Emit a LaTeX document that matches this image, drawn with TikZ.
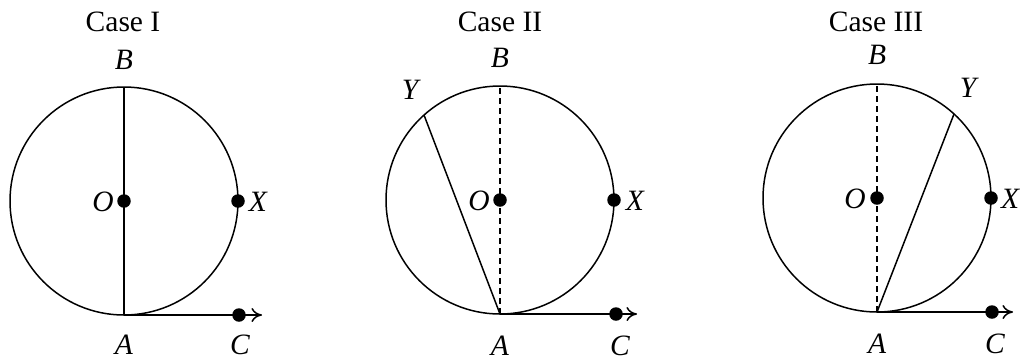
\documentclass[tikz,border=0pt]{standalone}
\usepackage{fontspec}
\setmainfont{Liberation Serif}
\usetikzlibrary{arrows.meta,positioning}

\begin{document}
\begin{tikzpicture}[
  x=0.02cm, y=-0.02cm,
  line width=0.85pt,
  dot/.style   = {circle, fill=black, inner sep=0pt, minimum size=0.27cm},
  lbl/.style   = {font=\fontsize{16.8}{19}\selectfont\itshape, inner sep=1pt},
  ttl/.style   = {font=\fontsize{16.8}{19}\selectfont, inner sep=1pt},
  rim/.style   = {line width=0.85pt},
  chord/.style = {line width=0.85pt},
  dashline/.style = {dash pattern=on 3.4pt off 2.3pt},
  ray/.style   = {-{To[length=6pt,width=8pt]}}
]
\useasboundingbox (0,0) rectangle (1023,360);

%% ---- Case I: diameter AB drawn solid ---------------------------------
\node[ttl] (t1) at (123,22) {Case I};
\coordinate (A1) at (124,315);
\coordinate (B1) at (124,87);
\coordinate (E1) at (262,315);
\draw[rim] (124,201) circle[radius=114];
\draw[chord] (A1) -- (B1);
\node[dot] (O1) at (124,201) {};
\node[dot] (X1) at (238,201) {};
\node[dot] (C1) at (239,315) {};
\draw[ray] (A1) -- (E1);
\node[lbl] (lB1) at (124,60) {B};
\node[lbl] (lO1) at (103,202) {O};
\node[lbl] (lX1) at (258,202) {X};
\node[lbl] (lA1) at (124,345) {A};
\node[lbl] (lC1) at (240,345) {C};

%% ---- Case II: Y to the left, AB dashed -------------------------------
\node[ttl] (t2) at (500,22) {Case II};
\coordinate (A2) at (500,314);
\coordinate (B2) at (500,86);
\coordinate (Y2) at (424,115);
\coordinate (E2) at (637,314);
\draw[rim] (500,200) circle[radius=114];
\draw[chord, dashline] (A2) -- (B2);
\draw[chord] (A2) -- (Y2);
\node[dot] (O2) at (500,200) {};
\node[dot] (X2) at (614,200) {};
\node[dot] (C2) at (616,314) {};
\draw[ray] (A2) -- (E2);
\node[lbl] (lB2) at (500,58) {B};
\node[lbl] (lY2) at (410,90) {Y};
\node[lbl] (lO2) at (479,201) {O};
\node[lbl] (lX2) at (635,201) {X};
\node[lbl] (lA2) at (500,346) {A};
\node[lbl] (lC2) at (620,346) {C};

%% ---- Case III: Y to the right, AB dashed -----------------------------
\node[ttl] (t3) at (876,22) {Case III};
\coordinate (A3) at (877,312);
\coordinate (B3) at (877,84);
\coordinate (Y3) at (954,114);
\coordinate (E3) at (1013,312);
\draw[rim] (877,198) circle[radius=114];
\draw[chord, dashline] (A3) -- (B3);
\draw[chord] (A3) -- (Y3);
\node[dot] (O3) at (877,198) {};
\node[dot] (X3) at (991,198) {};
\node[dot] (C3) at (992,312) {};
\draw[ray] (A3) -- (E3);
\node[lbl] (lB3) at (877,55) {B};
\node[lbl] (lY3) at (968,88) {Y};
\node[lbl] (lO3) at (855,199) {O};
\node[lbl] (lX3) at (1010,199) {X};
\node[lbl] (lA3) at (877,344) {A};
\node[lbl] (lC3) at (995,344) {C};

\end{tikzpicture}
\end{document}
